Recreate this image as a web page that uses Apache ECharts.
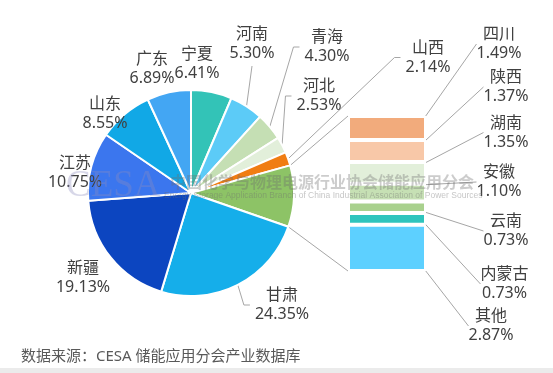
<!DOCTYPE html>
<html><head><meta charset="utf-8">
<script src="https://cdn.jsdelivr.net/npm/echarts@6/dist/echarts.min.js"></script>
<style>html,body{margin:0;padding:0;background:#fff}#c{width:553px;height:373px}</style>
</head><body><div id="c"></div>
<script>
// ---- data ----
const pieNames = ['宁夏','河南','青海','河北','山西','其他地区','甘肃','新疆','江苏','山东','广东'];
const pieValues = [6.41, 5.30, 4.30, 2.53, 2.14, 9.64, 24.35, 19.13, 10.75, 8.55, 6.89]; // 9.64 = breakdown total
const barNames = ['四川','陕西','湖南','安徽','云南','内蒙古','其他'];
const barValues = [1.49, 1.37, 1.35, 1.10, 0.73, 0.73, 2.87];
const groupIndex = 5;
const sourceText = '数据来源：CESA 储能应用分会产业数据库';

// ---- styles / layout ----
const pieColors = ['#33C3B7','#5CCBF7','#C5DFB4','#E2EFDA','#F07D12','#8DC366','#15AEEA','#0C45C0','#3B76EE','#11A8E6','#43A6F3'];
const barColors = ['#F2AB7C','#F8C8A8','#E2EFDA','#C6E0B4','#A9D18E','#2EC4BD','#5DD0FF'];
const CX = 191, CY = 193, R = 103;
const GRID = {left: 348, top: 116, width: 78, height: 155};
// label centre [x, y, lineMode]
const pieLabelPos = [
  [197, 64, 'none'], [252, 44, 'up'], [327, 47, 'side'], [319, 96, 'side'], [428, 57.5, 'side'],
  null, [282, 305, 'side'], [83, 277.5, 'none'], [75, 172.5, 'none'], [105, 113.5, 'none'], [152, 69, 'none']
];
const barLabelPos = [[499, 44], [506, 87], [506, 132.5], [499, 182], [506, 231], [504.5, 284], [491, 326]];
const FONT = '"Noto Sans", "Noto Sans CJK SC", sans-serif';
const TXT = '#404040';
const LINE = '#A6A6A6';

const total = pieValues.reduce((a, b) => a + b, 0);
const cumStart = [];
{ let c = 0; pieValues.forEach(v => { cumStart.push(c); c += v; }); }
function ang(c) { return c / total * Math.PI * 2; }
function pt(a, r) { return [CX + r * Math.sin(a), CY - r * Math.cos(a)]; }

function sideLine(anchor, cx, cy, w) {
  const left = cx - w / 2;
  const end = left - 5;
  return [anchor, [end - 6, cy], [end, cy]];
}

const chart = echarts.init(document.getElementById('c'), null, {renderer: 'canvas'});

const pieData = pieNames.map((n, i) => {
  const d = {name: n, value: pieValues[i], itemStyle: {color: pieColors[i]}};
  if (i === groupIndex) { d.label = {show: false}; d.labelLine = {show: false}; }
  else if (pieLabelPos[i][2] === 'none') d.labelLine = {show: false};
  return d;
});

const series = [{
  type: 'pie', center: [CX, CY], radius: R, startAngle: 90, clockwise: true,
  avoidLabelOverlap: false, silent: true,
  itemStyle: {borderColor: '#fff', borderWidth: 2},
  label: {show: true, position: 'outside', color: TXT, fontSize: 16, lineHeight: 19, fontFamily: FONT,
    formatter: p => p.name + '\n' + p.value.toFixed(2) + '%'},
  labelLine: {show: true, lineStyle: {color: LINE, width: 1}},
  labelLayout: function (p) {
    const i = p.dataIndex, pos = pieLabelPos[i];
    if (!pos) return {};
    const w = p.labelRect.width, h = p.labelRect.height;
    const mid = ang(cumStart[i] + pieValues[i] / 2);
    const anchor = pt(mid, R);
    const out = {x: pos[0], y: pos[1], align: 'center', verticalAlign: 'middle'};
    if (pos[2] === 'up') out.labelLinePoints = [anchor, [pos[0], pos[1] + h / 2 + 3], [pos[0], pos[1] + h / 2 + 3]];
    else if (pos[2] === 'side') out.labelLinePoints = sideLine(anchor, pos[0], pos[1], w);
    return out;
  },
  data: pieData
}];

barNames.forEach((n, i) => {
  series.push({
    type: 'bar', name: n, stack: 'brk', data: [barValues[i]], barWidth: '100%', silent: true,
    itemStyle: {color: barColors[i], borderColor: '#fff', borderWidth: 2},
    label: {show: true, position: 'right', color: TXT, fontSize: 16, lineHeight: 19, fontFamily: FONT,
      formatter: p => p.seriesName + '\n' + p.value.toFixed(2) + '%'},
    labelLine: {show: true, lineStyle: {color: LINE, width: 1}},
    labelLayout: function (p) {
      const pos = barLabelPos[i];
      const w = p.labelRect.width;
      const anchor = [p.rect.x + p.rect.width, p.rect.y + p.rect.height / 2];
      return {x: pos[0], y: pos[1], align: 'center', verticalAlign: 'middle',
        labelLinePoints: sideLine(anchor, pos[0], pos[1], w)};
    }
  });
});

const gA = ang(cumStart[groupIndex]), gB = ang(cumStart[groupIndex] + pieValues[groupIndex]);
const p1 = pt(gA, R), p2 = pt(gB, R);

chart.setOption({
  animation: false,
  backgroundColor: '#fff',
  grid: {left: GRID.left, top: GRID.top, width: GRID.width, height: GRID.height, containLabel: false},
  xAxis: {type: 'category', data: [''], show: false},
  yAxis: {type: 'value', min: 0, max: pieValues[groupIndex], inverse: true, show: false},
  series: series,
  graphic: [
    {type: 'line', z: 1, shape: {x1: p1[0], y1: p1[1], x2: GRID.left, y2: GRID.top}, style: {stroke: LINE, lineWidth: 1}},
    {type: 'line', z: 1, shape: {x1: p2[0], y1: p2[1], x2: GRID.left, y2: GRID.top + GRID.height}, style: {stroke: LINE, lineWidth: 1}},
    {type: 'text', z: 100, left: 21, top: 349, style: {text: sourceText, fontSize: 15, fontFamily: FONT, fill: '#595959'}},
    {type: 'rect', z: 100, shape: {x: 0, y: 368, width: 553, height: 5}, style: {fill: '#EBEBEB'}},
    {type: 'text', z: 100, x: 66, y: 186, style: {text: 'CESA', font: '37px "Liberation Serif", serif', fill: 'rgba(140,140,190,0.35)', verticalAlign: 'middle'}},
    {type: 'text', z: 100, x: 170, y: 182, style: {text: '中国化学与物理电源行业协会储能应用分会', font: 'bold 16px "Noto Sans CJK SC"', fill: 'rgba(110,110,110,0.35)', verticalAlign: 'middle'}},
    {type: 'text', z: 100, x: 164, y: 196, style: {text: 'Energy Storage Application Branch of China Industrial Association of Power Sources', font: '8.5px "Liberation Sans", sans-serif', fill: 'rgba(110,110,110,0.4)', verticalAlign: 'middle'}}
  ]
});
</script></body></html>
